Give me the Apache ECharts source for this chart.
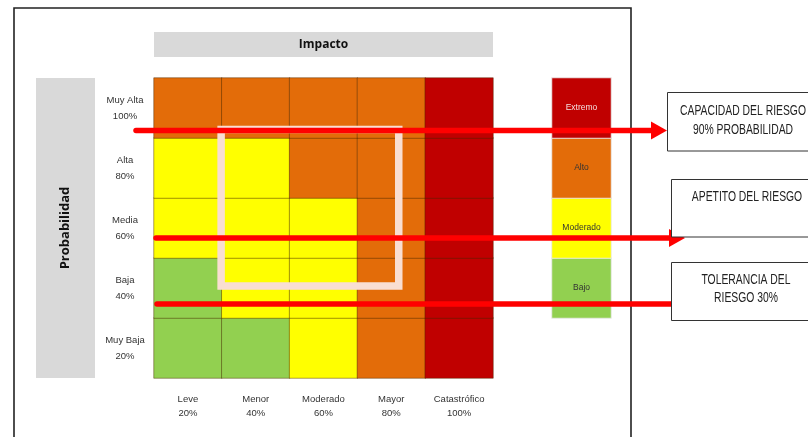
<!DOCTYPE html>
<html>
<head>
<meta charset="utf-8">
<script src="https://cdn.jsdelivr.net/npm/echarts@6/dist/echarts.min.js"></script>
<style>
  html, body { margin: 0; padding: 0; background: #fff; }
  #chart { width: 808px; height: 437px; }
</style>
</head>
<body>
<div id="chart"></div>
<script>
// ---------- DATA ----------
const impactNames = ['Leve', 'Menor', 'Moderado', 'Mayor', 'Catastrófico'];
const impactPcts  = ['20%', '40%', '60%', '80%', '100%'];
const probNames   = ['Muy Baja', 'Baja', 'Media', 'Alta', 'Muy Alta'];   // bottom -> top
const probPcts    = ['20%', '40%', '60%', '80%', '100%'];
const levelNames  = ['Bajo', 'Moderado', 'Alto', 'Extremo'];
// risk level per cell: rows bottom -> top, columns Leve -> Catastrófico
const riskRowMuyBaja = [0, 0, 1, 2, 3];
const riskRowBaja    = [0, 1, 1, 2, 3];
const riskRowMedia   = [1, 1, 1, 2, 3];
const riskRowAlta    = [1, 1, 2, 2, 3];
const riskRowMuyAlta = [2, 2, 2, 2, 3];
const riskRows = [riskRowMuyBaja, riskRowBaja, riskRowMedia, riskRowAlta, riskRowMuyAlta];
// annotation levels (probability %, as drawn)
const capacityLevel  = 82.5;
const appetiteLevel  = 46.7;
const toleranceLevel = 24.7;
const zoneTopPct = 82.8, zoneBottomPct = 30.7;
const zoneLeftCol = 0.99, zoneRightCol = 3.61;
const boxTexts = [
  'CAPACIDAD DEL RIESGO\n90% PROBABILIDAD',
  'APETITO DEL RIESGO',
  'TOLERANCIA DEL\nRIESGO 30%'
];

// ---------- STYLE / LAYOUT ----------
const levelColors = ['#92D050', '#FFFF00', '#E36C09', '#C00000'];
const G = { left: 154, top: 78, width: 339, height: 300 };
const L = { left: 552, top: 78, width: 59, height: 240 };
const sans = '"Liberation Sans", Arial, sans-serif';
const px = c => G.left + c * G.width / impactNames.length;
const py = p => G.top + (100 - p) / 100 * G.height;

const heatData = [];
riskRows.forEach((row, yi) => row.forEach((lv, xi) => heatData.push([xi, yi, lv])));
const legendData = levelNames.map((n, i) => ({
  value: [0, i, i],
  label: { color: i === 3 ? '#f4e0e0' : '#333333' }
}));

const RED = '#FF0000';
const redW = 5.5;
const yCap = py(capacityLevel), yApp = py(appetiteLevel), yTol = py(toleranceLevel);
const boxFont = '14px ' + sans;
const boxScale = 0.74;

const chart = echarts.init(document.getElementById('chart'), null, { renderer: 'canvas' });
chart.setOption({
  backgroundColor: '#ffffff',
  animation: false,
  grid: [
    { left: G.left, top: G.top, width: G.width, height: G.height },
    { left: L.left, top: L.top, width: L.width, height: L.height }
  ],
  xAxis: [
    {
      type: 'category', gridIndex: 0, data: impactNames,
      axisLine: { show: false }, axisTick: { show: false }, splitLine: { show: false },
      axisLabel: {
        interval: 0, margin: 14, lineHeight: 14, fontSize: 9.5, color: '#333', fontFamily: sans,
        formatter: (v, i) => v + '\n' + impactPcts[i]
      }
    },
    { type: 'category', gridIndex: 1, data: [''], show: false }
  ],
  yAxis: [
    {
      type: 'category', gridIndex: 0, data: probNames,
      axisLine: { show: false }, axisTick: { show: false }, splitLine: { show: false },
      axisLabel: {
        interval: 0, margin: 29, align: 'center', lineHeight: 16, fontSize: 9.5, color: '#333', fontFamily: sans,
        formatter: (v, i) => v + '\n' + probPcts[i]
      }
    },
    { type: 'category', gridIndex: 1, data: levelNames, show: false }
  ],
  visualMap: {
    type: 'piecewise', show: false, dimension: 2, seriesIndex: [0, 1],
    pieces: levelColors.map((c, i) => ({ value: i, color: c }))
  },
  series: [
    {
      type: 'heatmap', xAxisIndex: 0, yAxisIndex: 0, data: heatData, silent: true,
      itemStyle: { borderColor: 'rgba(70,40,0,0.45)', borderWidth: 1 },
      emphasis: { disabled: true }
    },
    {
      type: 'heatmap', xAxisIndex: 1, yAxisIndex: 1, data: legendData, silent: true,
      itemStyle: { borderColor: 'rgba(235,235,235,0.9)', borderWidth: 1 },
      label: {
        show: true, fontSize: 8.5, fontFamily: sans,
        formatter: p => levelNames[p.value[1]]
      },
      emphasis: { disabled: true }
    }
  ],
  graphic: [
    // frame
    { type: 'rect', z: 0, shape: { x: 14, y: 8, width: 617, height: 450 },
      style: { fill: 'none', stroke: '#222', lineWidth: 1.6 } },
    // Impacto header
    { type: 'rect', z: 1, shape: { x: G.left, y: 32, width: G.width, height: 25 },
      style: { fill: '#D9D9D9' } },
    { type: 'text', z: 2, x: G.left + G.width / 2, y: 45,
      style: { text: 'Impacto', fill: '#111', font: 'bold 12px "Open Sans", sans-serif',
               textAlign: 'center', textVerticalAlign: 'middle' } },
    // Probabilidad side bar
    { type: 'rect', z: 1, shape: { x: 36, y: G.top, width: 59, height: G.height },
      style: { fill: '#D9D9D9' } },
    { type: 'text', z: 2, x: 65.5, y: G.top + G.height / 2, rotation: Math.PI / 2,
      style: { text: 'Probabilidad', fill: '#111', font: 'bold 13px "Open Sans", sans-serif',
               textAlign: 'center', textVerticalAlign: 'middle' } },
    // pale zone rectangle
    { type: 'rect', z: 50,
      shape: { x: px(zoneLeftCol), y: py(zoneTopPct),
               width: px(zoneRightCol) - px(zoneLeftCol), height: py(zoneBottomPct) - py(zoneTopPct) },
      style: { fill: 'none', stroke: '#F9DED2', lineWidth: 7.5 } },
    // red lines
    { type: 'line', z: 60, shape: { x1: 136, y1: yCap, x2: 653, y2: yCap },
      style: { stroke: RED, lineWidth: redW, lineCap: 'round' } },
    { type: 'polygon', z: 60, shape: { points: [[651, yCap - 9], [667, yCap], [651, yCap + 9]] },
      style: { fill: RED } },
    { type: 'line', z: 60, shape: { x1: 156, y1: yApp, x2: 672, y2: yApp },
      style: { stroke: RED, lineWidth: redW, lineCap: 'round' } },
    { type: 'polygon', z: 60, shape: { points: [[669, yApp - 9], [685, yApp], [669, yApp + 9]] },
      style: { fill: RED } },
    { type: 'line', z: 60, shape: { x1: 157, y1: yTol, x2: 672, y2: yTol },
      style: { stroke: RED, lineWidth: redW, lineCap: 'round' } },
    // text boxes
    { type: 'rect', z: 70, shape: { x: 667.5, y: 92.5, width: 160, height: 58.5 },
      style: { fill: '#fff', stroke: '#333', lineWidth: 1 } },
    { type: 'text', z: 71, x: 743, y: 120.5, scaleX: boxScale,
      style: { text: boxTexts[0], fill: '#222', font: boxFont, lineHeight: 19,
               textAlign: 'center', textVerticalAlign: 'middle' } },
    { type: 'rect', z: 70, shape: { x: 671.5, y: 179.5, width: 160, height: 57.5 },
      style: { fill: '#fff', stroke: '#333', lineWidth: 1 } },
    { type: 'text', z: 71, x: 747, y: 197, scaleX: boxScale,
      style: { text: boxTexts[1], fill: '#222', font: boxFont,
               textAlign: 'center', textVerticalAlign: 'middle' } },
    { type: 'rect', z: 70, shape: { x: 671.5, y: 262.5, width: 160, height: 58 },
      style: { fill: '#fff', stroke: '#333', lineWidth: 1 } },
    { type: 'text', z: 71, x: 746, y: 289, scaleX: boxScale,
      style: { text: boxTexts[2], fill: '#222', font: boxFont, lineHeight: 18,
               textAlign: 'center', textVerticalAlign: 'middle' } }
  ]
});
</script>
</body>
</html>
